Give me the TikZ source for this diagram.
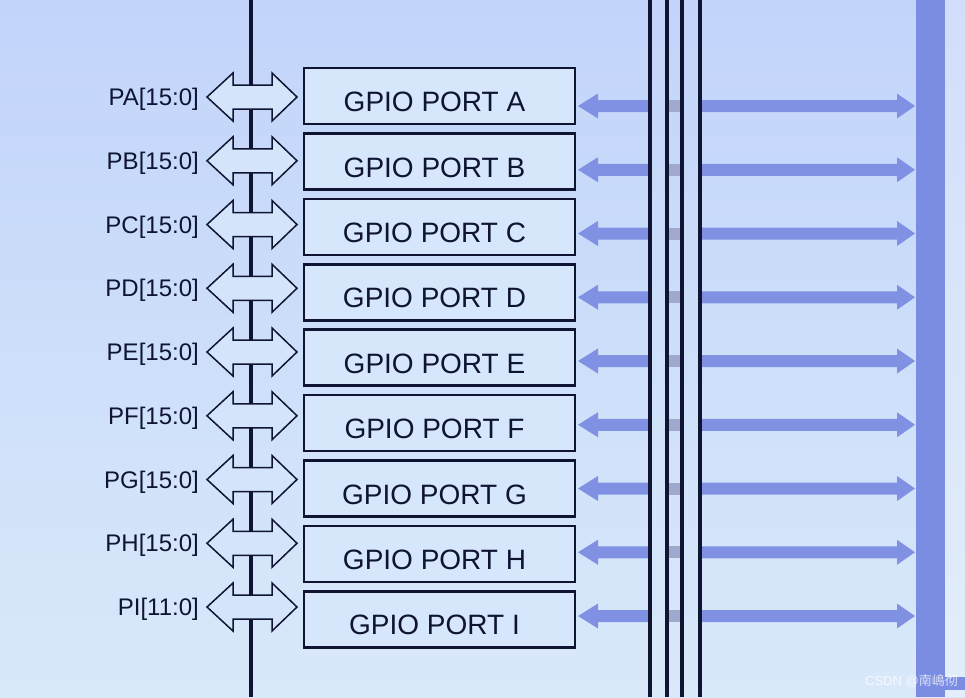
\documentclass[tikz,border=0pt]{standalone}
\usepackage{fontspec}
\setmainfont{Liberation Sans}
\newfontfamily\cjkfont{Noto Sans CJK SC}
\definecolor{bgtop}{RGB}{194,212,250}
\definecolor{bgbot}{RGB}{217,233,250}
\definecolor{inkc}{RGB}{14,20,50}
\definecolor{boxfill}{RGB}{214,230,251}
\definecolor{busblue}{RGB}{122,141,226}
\definecolor{arrblue}{RGB}{128,145,228}
\definecolor{midgray}{RGB}{160,168,205}
\definecolor{hollowfill}{RGB}{212,228,250}
\tikzset{
  portbox/.style={draw=inkc, line width=2.6pt, fill=boxfill, minimum width=271pt, minimum height=56pt, inner sep=0pt},
  porttext/.style={font=\fontsize{28}{30}\selectfont, text=inkc, inner sep=0pt},
  pinlabel/.style={font=\fontsize{24}{26}\selectfont, text=inkc, anchor=east, inner sep=0pt, text height=17pt, text depth=0pt},
  hollow/.style={draw=inkc, line width=1.5pt, fill=hollowfill, line join=miter},
  solidarr/.style={fill=arrblue, draw=none},
  busline/.style={draw=inkc, line width=3.2pt},
}
\begin{document}
\begin{tikzpicture}[x=1pt,y=-1pt]
\useasboundingbox (0,0) rectangle (965,697);
\shade[top color=bgtop, bottom color=bgbot] (0,0) rectangle (965,697);
\fill[white, opacity=0.25] (945,0) rectangle (965,697);
% left vertical line
\coordinate (lt) at (251,0);
\coordinate (lb) at (251,697);
\draw[busline] (lt) -- (lb);
% right big bar
\fill[busblue] (916,0) rectangle (945,697);
\fill[busblue] (945,677) rectangle (965,690);
% rows
\foreach \L [count=\k from 0] in {A,B,C,D,E,F,G,H,I}{
  \pgfmathsetmacro{\ya}{97+\k*63.75}
  \pgfmathsetmacro{\yb}{96+\k*65.4}
  \pgfmathsetmacro{\yr}{106+\k*63.75}
  % box and text
  \node[portbox] (box\L) at (439.5,\yb) {};
  \node[porttext, yshift=-6pt, xshift=-5pt] (txt\L) at (box\L.center) {GPIO PORT \L};
  % left hollow double arrow
  \coordinate (hl\L) at (207,\ya);
  \coordinate (hr\L) at (297,\ya);
  \draw[hollow] (hl\L) -- ++(26,-24) -- ++(0,12) -- ++(39,0) -- ++(0,-12)
     -- (hr\L) -- ++(-25,24) -- ++(0,-12) -- ++(-39,0) -- ++(0,12) -- cycle;
  % right solid double arrow
  \coordinate (rl\L) at (578,\yr);
  \coordinate (rr\L) at (915,\yr);
  \fill[solidarr] (rl\L) -- ++(20,-12.5) -- ++(0,6.5) -- (650,\yr-6) -- (650,\yr+6) -- (598,\yr+6) -- (598,\yr+12.5) -- cycle;
  \fill[midgray] (667,\yr-6) rectangle (682,\yr+6);
  \fill[solidarr] (rr\L) -- ++(-18,-12.5) -- ++(0,6.5) -- (700,\yr-6) -- (700,\yr+6) -- (897,\yr+6) -- (897,\yr+12.5) -- cycle;
}
% pin labels
\node[pinlabel] (lA) at (199,97) {PA[15:0]};
\node[pinlabel] (lB) at (199,160.75) {PB[15:0]};
\node[pinlabel] (lC) at (199,224.5) {PC[15:0]};
\node[pinlabel] (lD) at (199,288.25) {PD[15:0]};
\node[pinlabel] (lE) at (199,352) {PE[15:0]};
\node[pinlabel] (lF) at (199,415.75) {PF[15:0]};
\node[pinlabel] (lG) at (199,479.5) {PG[15:0]};
\node[pinlabel] (lH) at (199,543.25) {PH[15:0]};
\node[pinlabel] (lI) at (199,607) {PI[11:0]};
% four vertical bus lines
\foreach \xx/\n in {650/1,667/2,682/3,700/4}{
  \coordinate (vt\n) at (\xx,0);
  \coordinate (vb\n) at (\xx,697);
  \draw[busline] (vt\n) -- (vb\n);
}
% watermark
\node[font=\fontsize{13}{15}\selectfont, text=white, opacity=0.75, anchor=east, inner sep=0pt] (wm) at (958,681) {CSDN @{\cjkfont 南嶋彻}};
\end{tikzpicture}
\end{document}
